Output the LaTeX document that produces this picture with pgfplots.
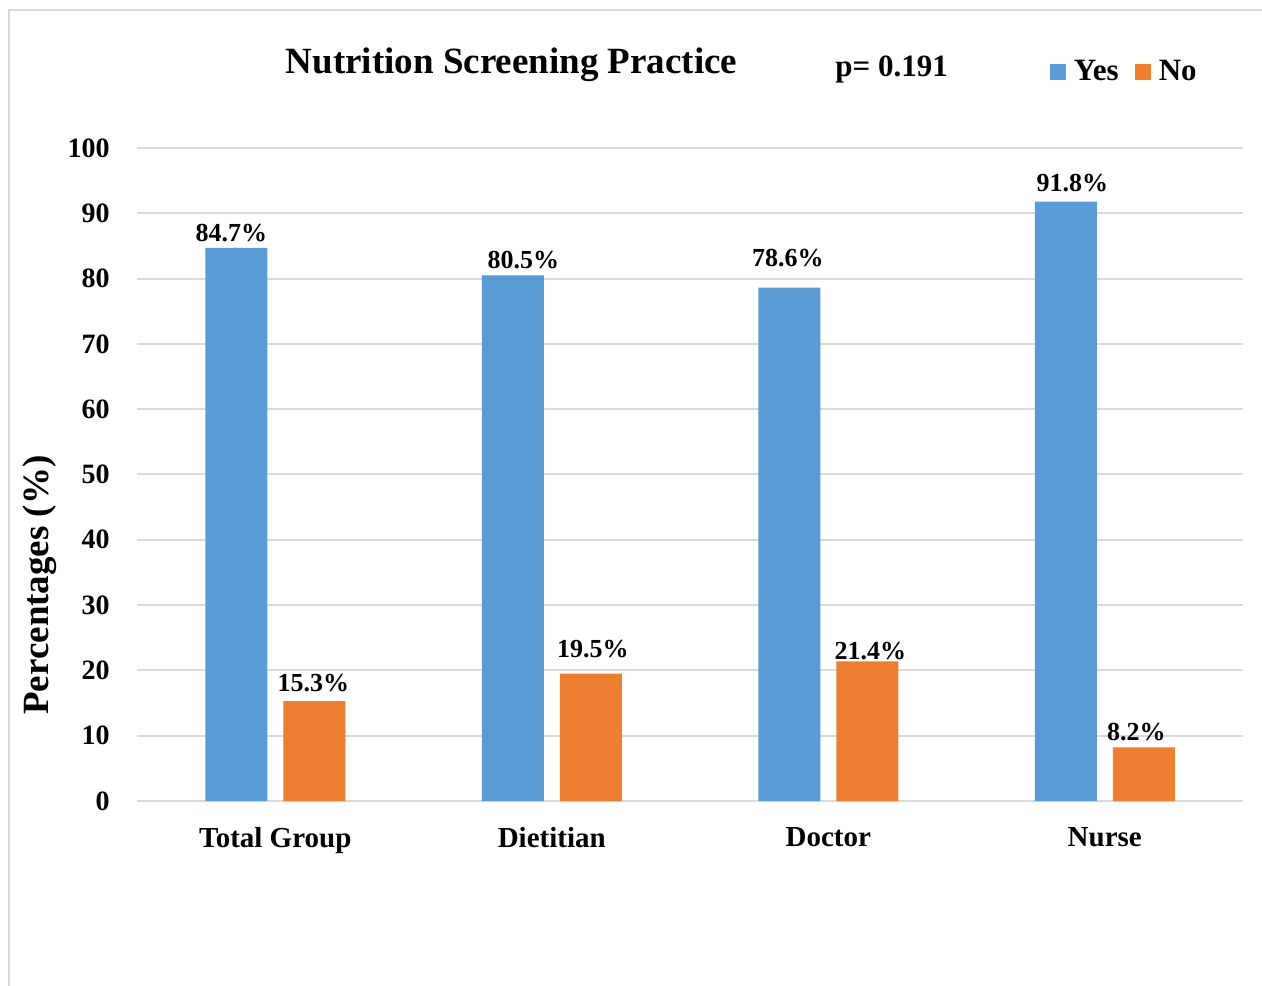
\documentclass[border=0pt]{standalone}
\usepackage{pgfplots}
\pgfplotsset{compat=1.18}
\usepackage{pgfplotstable}
\usepackage{fontspec}
\setmainfont{Liberation Serif}
\definecolor{yesblue}{HTML}{5B9BD5}
\definecolor{noorange}{HTML}{ED7D31}
\definecolor{gridgray}{HTML}{D9D9D9}

% x: group index, y: percentage, dx/dy: label offsets in pt
\pgfplotstableread{
x y    dx    dy
0 84.7 -2.5  3
1 80.5  5.25 3
2 78.6 -0.75 10
3 91.8  3.25 4.5
}\yesdata
\pgfplotstableread{
x y    dx    dy
0 15.3 -0.5  4.5
1 19.5  1    7.5
2 21.4  1.5  0.5
3 8.2  -3.75 3
}\nodata

\begin{document}
\begin{tikzpicture}
\useasboundingbox (0,0) rectangle (631pt,492.5pt);
\fill[white] (0,0) rectangle (631pt,492.5pt);
% chart frame
\draw[gridgray, line width=1pt] (4.5pt,-2pt) -- (4.5pt,487.5pt) -- (640pt,487.5pt);
\begin{axis}[
  at={(68.5pt,92pt)}, anchor=south west,
  scale only axis, width=553pt, height=326.5pt,
  xmin=-0.5, xmax=3.5, ymin=0, ymax=100,
  ybar=8pt, bar width=31pt,
  xtick={0,1,2,3}, xticklabels={Total Group,Dietitian,Doctor,Nurse},
  ytick={0,10,...,100},
  major tick length=0pt,
  axis line style={draw=none},
  ymajorgrids, grid style={gridgray, line width=1pt},
  /pgf/number format/assume math mode=true,
  yticklabel style={font=\fontsize{14}{16}\selectfont\bfseries, inner sep=0pt, anchor=east, xshift=-13.5pt},
  xticklabel style={font=\fontsize{14.5}{17}\selectfont\bfseries, inner sep=0pt, anchor=north, yshift=-13pt},
  nodes near coords={\pgfmathprintnumber[fixed,precision=1,fixed zerofill]{\pgfplotspointmeta}\%},
  nodes near coords style={font=\fontsize{13}{15}\selectfont\bfseries, inner sep=0pt, anchor=south,
    xshift=\labdx*1pt, yshift=\labdy*1pt, black},
  visualization depends on={\thisrow{dx} \as \labdx},
  visualization depends on={\thisrow{dy} \as \labdy},
  legend columns=2,
  legend image code/.code={%
    \path[draw=none,fill=none] (-8pt,-4pt) rectangle (12pt,4pt);
    \fill[#1,draw=none] (0pt,-4pt) rectangle (8pt,4pt);},
  legend style={at={(0.811,1.1164)}, anchor=west, draw=none, fill=none,
    inner sep=0pt, outer sep=0pt, nodes={inner sep=0pt},
    font=\fontsize{15.5}{18}\selectfont\bfseries},
]
\addplot[fill=yesblue, draw=none] table[x=x, y=y] {\yesdata};
\addplot[fill=noorange, draw=none] table[x=x, y=y] {\nodata};
\legend{Yes,No}
\end{axis}
\node[anchor=base, inner sep=0pt, font=\fontsize{18.5}{22}\selectfont\bfseries] at (255.75pt,455.5pt) {Nutrition Screening Practice};
\node[anchor=base west, inner sep=0pt, font=\fontsize{15.5}{18}\selectfont\bfseries] at (417.5pt,454pt) {p= 0.191};
\node[rotate=90, inner sep=0pt, font=\fontsize{18.5}{22}\selectfont\bfseries] at (20pt,200pt) {Percentages (\%)};
\end{tikzpicture}
\end{document}
